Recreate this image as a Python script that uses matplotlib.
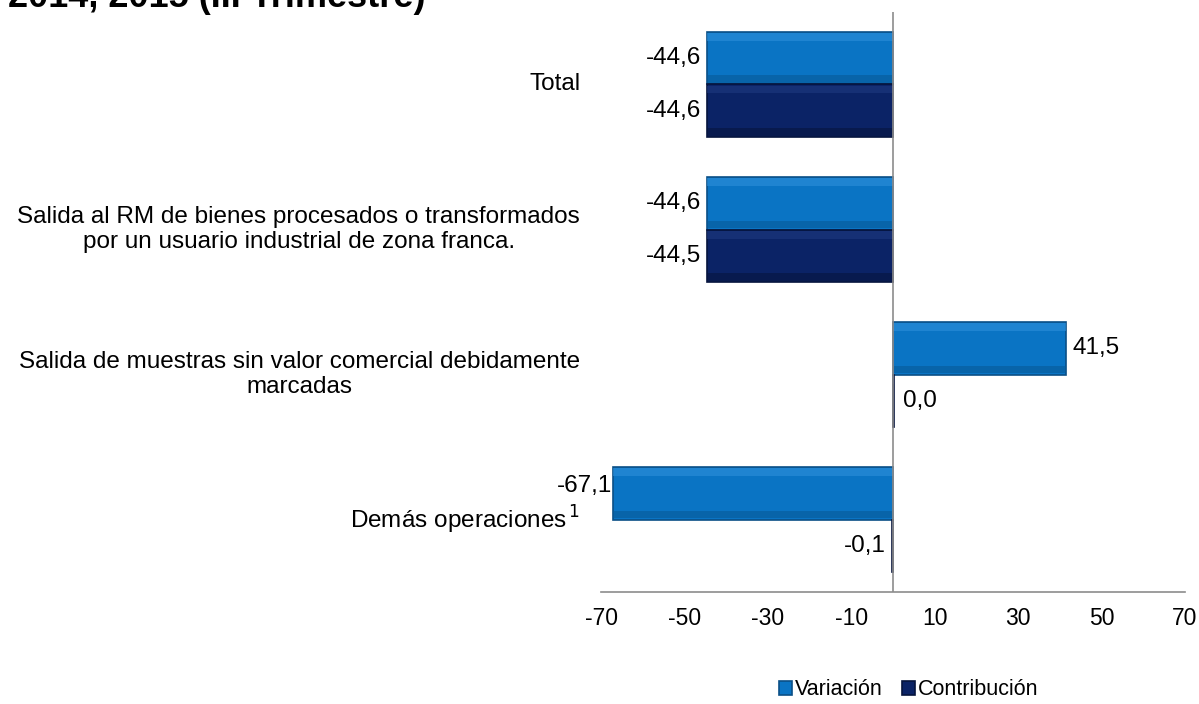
import numpy as np
import matplotlib.pyplot as plt

plt.rcParams["font.family"] = ["Liberation Sans", "DejaVu Sans"]

categorias = [
    "Total",
    "Salida al RM de bienes procesados o transformados\npor un usuario industrial de zona franca.",
    "Salida de muestras sin valor comercial debidamente\nmarcadas",
    "Demás operaciones$^{\\,1}$",
]
variacion = [-44.6, -44.6, 41.5, -67.1]
contribucion = [-44.6, -44.5, 0.0, -0.1]
etiquetas_var = ["-44,6", "-44,6", "41,5", "-67,1"]
etiquetas_con = ["-44,6", "-44,5", "0,0", "-0,1"]
ticks_x = [-70, -50, -30, -10, 10, 30, 50, 70]

color_var = "#0A74C4"
color_con = "#0B2366"


def barras_bisel(ax, pos, vals, h, color, claro, oscuro, borde, label):
    ax.barh(pos, vals, height=h, color=color, edgecolor=borde,
            linewidth=1.2, label=label, zorder=2)
    # franja clara arriba y oscura abajo (efecto bisel suave)
    ax.barh(pos - h * 0.40, vals, height=h * 0.14, color=claro,
            linewidth=0, alpha=0.6, zorder=2.1)
    ax.barh(pos + h * 0.40, vals, height=h * 0.14, color=oscuro,
            linewidth=0, alpha=0.6, zorder=2.1)


def main():
    fig = plt.figure(figsize=(11.99, 7.04), dpi=100)
    ax = fig.add_axes([0.5013, 0.159, 0.4870, 0.824])

    y = np.arange(len(categorias))
    h = 0.365

    barras_bisel(ax, y - h / 2, variacion, h, color_var, "#2E90DA",
                 "#085A98", "#0A4F86", "Variación")
    # barra minima visible para valores ~0
    con_plot = [c if abs(c) > 0.3 else (0.3 if c >= 0 else -0.3) for c in contribucion]
    barras_bisel(ax, y + h / 2, con_plot, h, color_con, "#1E3A80",
                 "#06153F", "#06143D", "Contribución")

    fs = 17.5
    for i in range(len(categorias)):
        v = variacion[i]
        if v < 0:
            if i == 3:
                ax.text(v - 0.2, y[i] - h / 2 - 0.05, etiquetas_var[i],
                        ha="right", va="center", fontsize=fs)
            else:
                ax.text(v - 1.5, y[i] - h / 2, etiquetas_var[i],
                        ha="right", va="center", fontsize=fs)
        else:
            ax.text(v + 1.5, y[i] - h / 2, etiquetas_var[i],
                    ha="left", va="center", fontsize=fs)
        c = contribucion[i]
        if c < 0:
            ax.text(con_plot[i] - 1.5, y[i] + h / 2, etiquetas_con[i],
                    ha="right", va="center", fontsize=fs)
        else:
            ax.text(con_plot[i] + 2.0, y[i] + h / 2, etiquetas_con[i],
                    ha="left", va="center", fontsize=fs)

    ax.axvline(0, color="#8C8C8C", linewidth=1.2, zorder=3)

    ax.set_xlim(-70, 70)
    ax.set_ylim(len(categorias) - 0.5, -0.5)
    ax.set_xticks(ticks_x)
    ax.set_xticklabels([str(t) for t in ticks_x], fontsize=16.5)
    ax.tick_params(axis="x", length=0, pad=11)
    ax.set_yticks([])

    for lado in ["top", "right", "left"]:
        ax.spines[lado].set_visible(False)
    ax.spines["bottom"].set_color("#8C8C8C")
    ax.spines["bottom"].set_linewidth(1.2)

    # etiquetas de categorias a la izquierda
    for i, cat in enumerate(categorias):
        ax.text(-75, y[i], cat, ha="right", va="center", fontsize=fs,
                multialignment="center")

    fig.text(0.007, 1 - 7 / 704, "2014, 2015 (III Trimestre)", fontsize=26,
             fontweight="bold", ha="left", va="baseline")

    fig.legend(loc="center", bbox_to_anchor=(0.758, 0.02), ncol=2, frameon=False,
               fontsize=15.5, handlelength=0.6, handleheight=0.6, handletextpad=0.15,
               columnspacing=0.9)

    fig.savefig("out.png", dpi=100)


if __name__ == "__main__":
    main()
